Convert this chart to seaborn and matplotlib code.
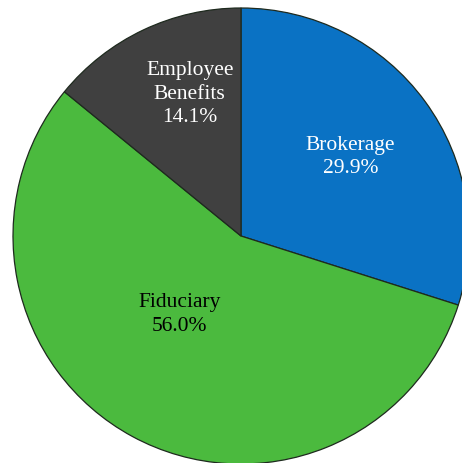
import matplotlib
matplotlib.use("Agg")
import matplotlib.pyplot as plt
import seaborn as sns

sns.set_theme(style="white")
plt.rcParams['font.family'] = ['Liberation Serif', 'DejaVu Serif']

categories = ["Brokerage", "Fiduciary", "Employee\nBenefits"]
shares = [29.9, 56.0, 14.1]
colors = ["#0A72C4", "#4BBA3E", "#404040"]
text_colors = ["white", "black", "white"]
label_pos = [(0.48, 0.35), (-0.27, -0.34), (-0.225, 0.627)]

fig = plt.figure(figsize=(4.62, 4.64), dpi=100)
fig.patch.set_facecolor("white")
R = 228
cx, cy = 241, 464 - 237
ax = fig.add_axes([(cx - R) / 462, (cy - R) / 464, 2 * R / 462, 2 * R / 464])
ax.pie(shares, colors=colors, startangle=90, counterclock=False,
       wedgeprops=dict(edgecolor="#1e2a1e", linewidth=0.9))
ax.set_xlim(-1, 1)
ax.set_ylim(-1, 1)
ax.set_aspect("auto")
ax.axis("off")

for cat, val, tc, (x, y) in zip(categories, shares, text_colors, label_pos):
    ax.text(x, y, f"{cat}\n{val:.1f}%", ha="center", va="center",
            color=tc, fontsize=15.5, linespacing=1.3)

fig.savefig("out.png", dpi=100, facecolor="white")
